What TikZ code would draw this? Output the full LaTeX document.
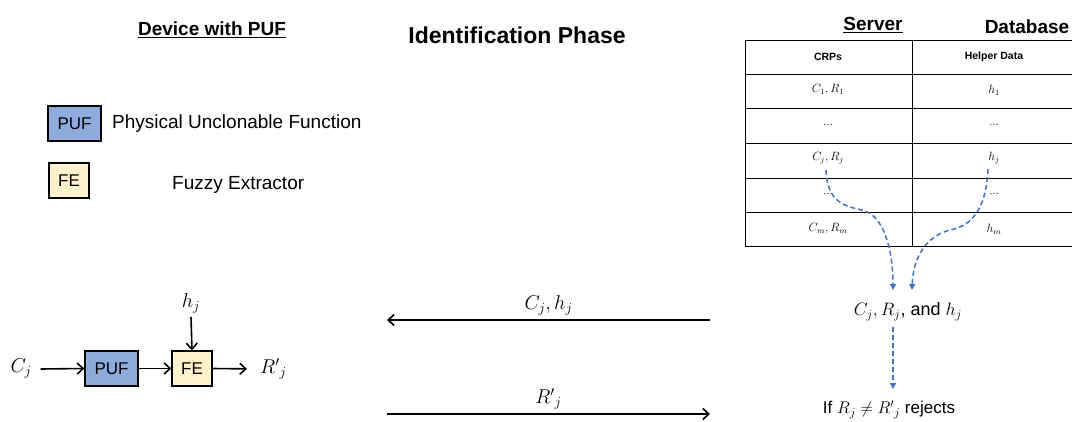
\RequirePackage{fix-cm}
\documentclass[tikz,border=0pt]{standalone}
\usepackage{fontspec}
\setmainfont{Liberation Sans}
\usetikzlibrary{arrows.meta}
\definecolor{pufblue}{HTML}{8FAADC}
\definecolor{feyellow}{HTML}{FFF2CC}
\definecolor{dblue}{HTML}{4472C4}
\begin{document}
\begin{tikzpicture}[x=1pt,y=-1pt,
  blk/.style={draw, line width=1.3, minimum height=35, inner sep=0, font=\fontsize{17}{20}\selectfont},
  pufbox/.style={blk, fill=pufblue, minimum width=53},
  febox/.style={blk, fill=feyellow, minimum width=40},
  title/.style={font=\fontsize{19}{22}\selectfont\bfseries},
  lbl/.style={font=\fontsize{19}{22}\selectfont, inner sep=1},
  mlbl/.style={font=\fontsize{20}{23}\selectfont, inner sep=1},
  cell/.style={font=\fontsize{12}{14}\selectfont, inner sep=1},
  hcell/.style={font=\fontsize{10.5}{12}\selectfont\bfseries, inner sep=1},
  arr/.style={-{Straight Barb[length=6,width=11]}, line width=1.6},
  darr/.style={draw=dblue, line width=1.5, dash pattern=on 5 off 3, -{Triangle[length=6,width=6]}}]
\useasboundingbox (0,0) rectangle (1072,421);

% titles
\node[title] (tdev) at (212,30) {\underline{Device with PUF}};
\node[title, font=\fontsize{23}{26}\selectfont\bfseries] (tid) at (517,35) {Identification Phase};
\node[title] (tserv) at (873,25) {\underline{Server}};
\node[title] (tdb) at (1027,27) {Database};

% legend
\node[pufbox] (lpuf) at (74.5,123.5) {PUF};
\node[lbl, anchor=west] (lpuftxt) at (111,123.5) {Physical Unclonable Function};
\node[febox] (lfe) at (69,180.5) {FE};
\node[lbl, anchor=west] (lfetxt) at (171,185) {Fuzzy Extractor};

% device diagram
\node[mlbl] (cj) at (21,369) {$C_j$};
\node[pufbox] (puf) at (111.5,368.5) {PUF};
\node[febox] (fe) at (192,368.5) {FE};
\node[mlbl] (hj) at (191,303) {$h_j$};
\node[mlbl, anchor=west] (rpj) at (259,369) {${R'}_{j}$};
\draw[arr] (cj.east) ++(8,0) coordinate (cjs) (cjs) -- (puf.west);
\draw[arr] (puf) -- (fe);
\draw[arr] (hj.south) ++(0,3) coordinate (hjs) (hjs) -- (fe.north);
\draw[arr, shorten >=12] (fe.east) -- (rpj.west);

% messages
\coordinate (m1r) at (710,320);
\coordinate (m1l) at (387,320);
\draw[arr] (m1r) -- (m1l) node[midway, above=3, mlbl] (m1lbl) {$C_j, h_j$};
\coordinate (m2l) at (387,414);
\coordinate (m2r) at (710,414);
\draw[arr] (m2l) -- (m2r) node[midway, above=3, mlbl] (m2lbl) {${R'}_{j}$};

% table
\draw[line width=1] (745.5,40) rectangle (1072,246);
\foreach \yy in {74,108,143,178,212} \draw[line width=1] (745.5,\yy) -- (1072,\yy);
\draw[line width=1] (912,40) -- (912,246);
\node[hcell] (h1) at (828,57) {CRPs};
\node[hcell] (h2) at (994,57) {Helper Data};
\node[cell] (c1) at (828,90) {$C_1, R_1$};
\node[cell] (d1) at (994,90) {$h_1$};
\node[cell, font=\fontsize{10}{12}\selectfont] (c2) at (828,125) {\dots};
\node[cell, font=\fontsize{10}{12}\selectfont] (d2) at (994,125) {\dots};
\node[cell] (c3) at (828,158) {$C_j, R_j$};
\node[cell] (d3) at (994,158) {$h_j$};
\node[cell, font=\fontsize{10}{12}\selectfont] (c4) at (828,194) {\dots};
\node[cell, font=\fontsize{10}{12}\selectfont] (d4) at (994,194) {\dots};
\node[cell] (c5) at (828,229) {$C_m, R_m$};
\node[cell] (d5) at (994,229) {$h_m$};

% server side results
\node[mlbl, font=\fontsize{18}{21}\selectfont] (res) at (908,312) {$C_j, R_j$, and $h_j$};
\node[lbl, font=\fontsize{17}{20}\selectfont] (rej) at (889,410) {If $R_j \neq {R'}_{j}$ rejects};

\coordinate (ct1) at (893,290);
\coordinate (ct2) at (912,290);
\draw[darr] (826,170) .. controls (827,200) and (842,206) .. (862,210) .. controls (884,215) and (893,250) .. (ct1);
\draw[darr] (988,169) .. controls (986,212) and (970,226) .. (950,230) .. controls (926,236) and (913,258) .. (ct2);
\draw[darr] (893,327) -- (893,389);
\end{tikzpicture}
\end{document}
